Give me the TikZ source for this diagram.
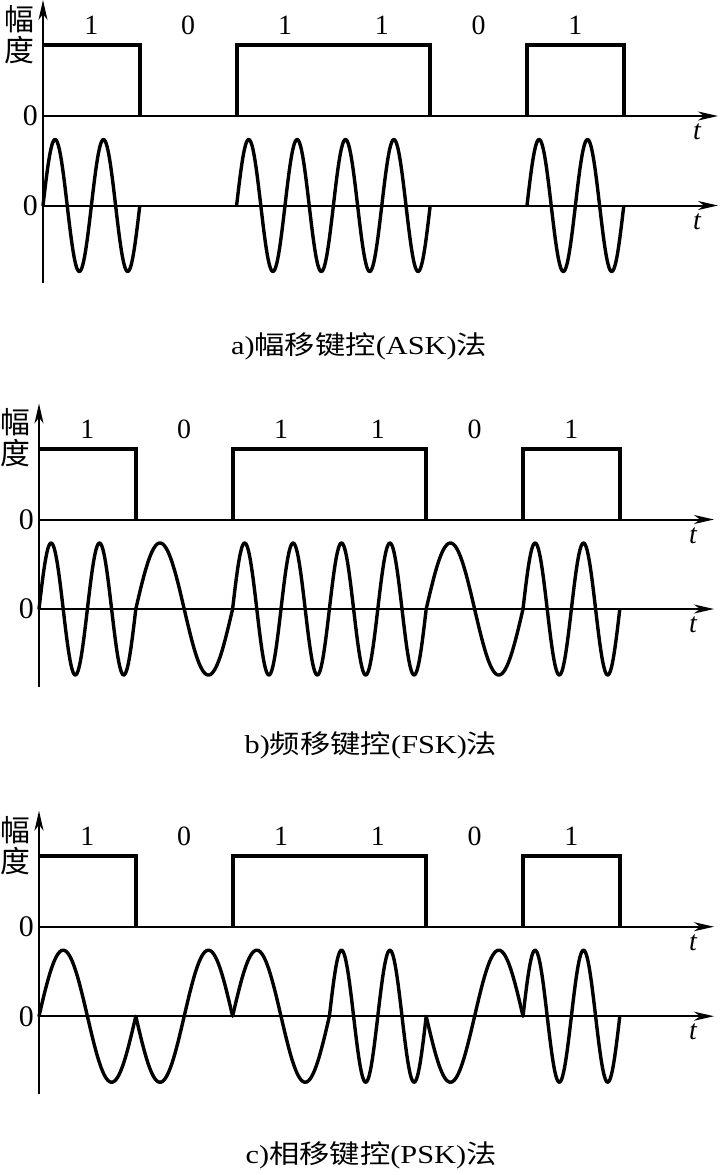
\documentclass[tikz,border=0pt]{standalone}
\usepackage{fontspec}
\setmainfont{Liberation Serif}
\newfontfamily\cjk{Noto Sans CJK SC}
\usetikzlibrary{arrows.meta}
\tikzset{
 axisline/.style={line width=2bp, -{Stealth[length=20bp,width=9bp,inset=6bp]}},
 sqwave/.style={line width=4bp, line join=miter},
 carrier/.style={line width=3.4bp, line cap=round, line join=round},
 bitlabel/.style={font=\fontsize{28}{28}\selectfont, inner sep=0},
 zerolabel/.style={font=\fontsize{30}{30}\selectfont, inner sep=0, anchor=east},
 tlabel/.style={font=\fontsize{28}{28}\selectfont\itshape, inner sep=0},
 cjklabel/.style={font=\fontsize{30}{30}\selectfont\cjk, inner sep=0},
 caption/.style={font=\fontsize{26}{26}\selectfont, inner sep=0},
}
\newcommand{\wavseg}[3]{\draw[carrier] plot[domain=0:1, samples=120, variable=\u] ({(#1+\u)*96.8}, {89.5-(#3)*66*sin(360*#2*\u)});}
\newcommand{\panelframe}[1]{%
 \coordinate (#1top) at (0,-116);
 \coordinate (#1bot) at (0,167);
 \coordinate (#1o) at (0,0);
 \coordinate (#1tip) at (675,0);
 \coordinate (#1lo) at (0,89.5);
 \coordinate (#1ltip) at (675,89.5);
 \draw[axisline] (#1bot) -- (#1top);
 \draw[axisline] (#1o) -- (#1tip);
 \draw[axisline] (#1lo) -- (#1ltip);
 \node[zerolabel] (#1z1) at (-5,0) {0};
 \node[zerolabel] (#1z2) at (-5,89.5) {0};
 \node[tlabel] (#1t1) at (654,16) {t};
 \node[tlabel] (#1t2) at (654,105.5) {t};
 \node[cjklabel] (#1fu) at (-24,-97) {幅};
 \node[cjklabel] (#1du) at (-24,-66) {度};
 \foreach \v [count=\i from 0] in {1,0,1,1,0,1}
   \node[bitlabel] (#1b\i) at ({(\i+0.5)*96.8}, -90.5) {\v};
 \draw[sqwave] (0,-71) -- (96.8,-71) -- (96.8,0);
 \draw[sqwave] (193.6,0) -- (193.6,-71) -- (387.2,-71) -- (387.2,0);
 \draw[sqwave] (484,0) -- (484,-71) -- (580.8,-71) -- (580.8,0);
}
\begin{document}
\begin{tikzpicture}[x=1bp,y=-1bp]
\useasboundingbox (0,0) rectangle (720,1175);
% (a) ASK
\begin{scope}[shift={(43,116)}]
 \panelframe{a}
 \wavseg{0}{2}{1}
 \wavseg{2}{2}{1}
 \wavseg{3}{2}{1}
 \wavseg{5}{2}{1}
\end{scope}
\node[caption] (capa) at (359,346) {\scalebox{1.17}[1]{a){\cjk 幅移键控}(ASK){\cjk 法}}};
% (b) FSK
\begin{scope}[shift={(39,519.5)}]
 \panelframe{b}
 \wavseg{0}{2}{1}
 \wavseg{1}{1}{1}
 \wavseg{2}{2}{1}
 \wavseg{3}{2}{1}
 \wavseg{4}{1}{1}
 \wavseg{5}{2}{1}
\end{scope}
\node[caption] (capb) at (371,745) {\scalebox{1.17}[1]{b){\cjk 频移键控}(FSK){\cjk 法}}};
% (c) PSK
\begin{scope}[shift={(39,926.7)}]
 \panelframe{c}
 \wavseg{0}{1}{1}
 \wavseg{1}{1}{-1}
 \wavseg{2}{1}{1}
 \wavseg{3}{2}{1}
 \wavseg{4}{1}{-1}
 \wavseg{5}{2}{1}
\end{scope}
\node[caption] (capc) at (371,1155) {\scalebox{1.17}[1]{c){\cjk 相移键控}(PSK){\cjk 法}}};
\end{tikzpicture}
\end{document}
